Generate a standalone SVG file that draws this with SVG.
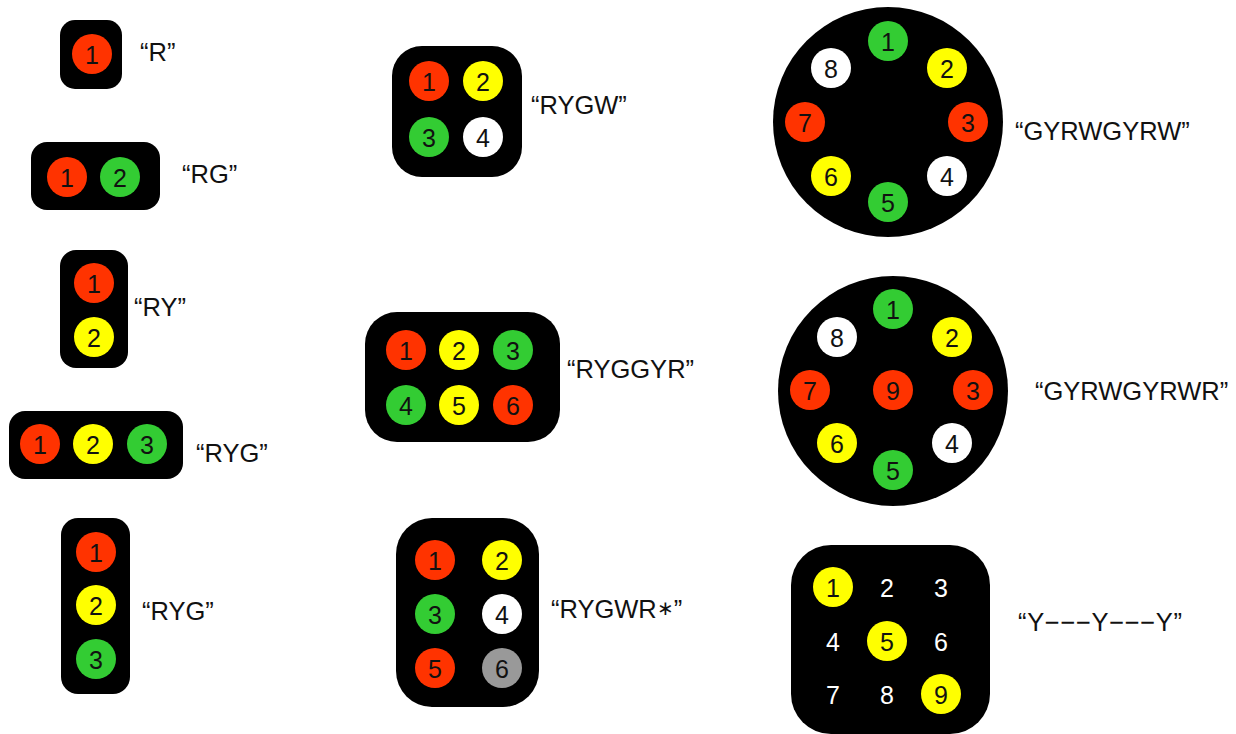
<svg xmlns="http://www.w3.org/2000/svg" width="1236" height="734" viewBox="0 0 1236 734">
<style>
.box{fill:#000}
.r{fill:#FF3300}
.y{fill:#FFFF00}
.g{fill:#33CC33}
.w{fill:#FFFFFF}
.gr{fill:#999999}
.n{font-family:"Liberation Sans",Arial,sans-serif;font-size:25px;fill:#111;text-anchor:middle;dominant-baseline:central}
.nw{font-family:"Liberation Sans",Arial,sans-serif;font-size:25px;fill:#fff;text-anchor:middle;dominant-baseline:central}
.lbl{font-family:"Liberation Sans",Arial,sans-serif;font-size:25.5px;fill:#111}
</style>
<rect width="1236" height="734" fill="#fff"/>

<g id="sig-R">
<rect class="box" x="60" y="20" width="62" height="69" rx="15"/>
<circle class="r" cx="92" cy="54" r="20"/><text class="n" x="92" y="55">1</text>
<text class="lbl" x="140" y="61">“R”</text>
</g>

<g id="sig-RG">
<rect class="box" x="31" y="142" width="129" height="68" rx="16"/>
<circle class="r" cx="67" cy="177" r="20"/><text class="n" x="67" y="178">1</text>
<circle class="g" cx="120" cy="177" r="20"/><text class="n" x="120" y="178">2</text>
<text class="lbl" x="182" y="183">“RG”</text>
</g>

<g id="sig-RY">
<rect class="box" x="60" y="250" width="68" height="118" rx="16"/>
<circle class="r" cx="94" cy="283" r="20"/><text class="n" x="94" y="284">1</text>
<circle class="y" cx="94" cy="337" r="20"/><text class="n" x="94" y="338">2</text>
<text class="lbl" x="134" y="316">“RY”</text>
</g>

<g id="sig-RYG-h">
<rect class="box" x="9" y="411" width="174" height="68" rx="16"/>
<circle class="r" cx="40" cy="444" r="20"/><text class="n" x="40" y="445">1</text>
<circle class="y" cx="93" cy="444" r="20"/><text class="n" x="93" y="445">2</text>
<circle class="g" cx="147" cy="444" r="20"/><text class="n" x="147" y="445">3</text>
<text class="lbl" x="196" y="462">“RYG”</text>
</g>

<g id="sig-RYG-v">
<rect class="box" x="61" y="518" width="69" height="176" rx="17"/>
<circle class="r" cx="96" cy="552" r="20"/><text class="n" x="96" y="553">1</text>
<circle class="y" cx="96" cy="605" r="20"/><text class="n" x="96" y="606">2</text>
<circle class="g" cx="96" cy="659" r="20"/><text class="n" x="96" y="660">3</text>
<text class="lbl" x="142" y="620">“RYG”</text>
</g>

<g id="sig-RYGW">
<rect class="box" x="392" y="46" width="130" height="131" rx="30"/>
<circle class="r" cx="429" cy="81" r="20"/><text class="n" x="429" y="82">1</text>
<circle class="y" cx="483" cy="81" r="20"/><text class="n" x="483" y="82">2</text>
<circle class="g" cx="429" cy="137" r="20"/><text class="n" x="429" y="138">3</text>
<circle class="w" cx="483" cy="137" r="20"/><text class="n" x="483" y="138">4</text>
<text class="lbl" x="531" y="114">“RYGW”</text>
</g>

<g id="sig-RYGGYR">
<rect class="box" x="365" y="312" width="195" height="130" rx="32"/>
<circle class="r" cx="406" cy="350" r="20"/><text class="n" x="406" y="351">1</text>
<circle class="y" cx="459" cy="350" r="20"/><text class="n" x="459" y="351">2</text>
<circle class="g" cx="513" cy="350" r="20"/><text class="n" x="513" y="351">3</text>
<circle class="g" cx="406" cy="405" r="20"/><text class="n" x="406" y="406">4</text>
<circle class="y" cx="459" cy="405" r="20"/><text class="n" x="459" y="406">5</text>
<circle class="r" cx="513" cy="405" r="20"/><text class="n" x="513" y="406">6</text>
<text class="lbl" x="567" y="378">“RYGGYR”</text>
</g>

<g id="sig-RYGWR">
<rect class="box" x="396" y="518" width="143" height="189" rx="36"/>
<circle class="r" cx="435" cy="560" r="20"/><text class="n" x="435" y="561">1</text>
<circle class="y" cx="502" cy="560" r="20"/><text class="n" x="502" y="561">2</text>
<circle class="g" cx="435" cy="614" r="20"/><text class="n" x="435" y="615">3</text>
<circle class="w" cx="502" cy="614" r="20"/><text class="n" x="502" y="615">4</text>
<circle class="r" cx="435" cy="668" r="20"/><text class="n" x="435" y="669">5</text>
<circle class="gr" cx="502" cy="668" r="20"/><text class="n" x="502" y="669">6</text>
<text class="lbl" x="551" y="618">“RYGWR<tspan font-size="20" dy="-3">∗</tspan><tspan dy="3">”</tspan></text>
</g>

<g id="sig-GYRWGYRW">
<circle class="box" cx="888" cy="122" r="115"/>
<circle class="g" cx="888" cy="41" r="20"/><text class="n" x="888" y="42">1</text>
<circle class="y" cx="947" cy="68" r="20"/><text class="n" x="947" y="69">2</text>
<circle class="r" cx="968" cy="122" r="20"/><text class="n" x="968" y="123">3</text>
<circle class="w" cx="947" cy="176" r="20"/><text class="n" x="947" y="177">4</text>
<circle class="g" cx="888" cy="202" r="20"/><text class="n" x="888" y="203">5</text>
<circle class="y" cx="831" cy="176" r="20"/><text class="n" x="831" y="177">6</text>
<circle class="r" cx="805" cy="122" r="20"/><text class="n" x="805" y="123">7</text>
<circle class="w" cx="831" cy="68" r="20"/><text class="n" x="831" y="69">8</text>
<text class="lbl" x="1015" y="140">“GYRWGYRW”</text>
</g>

<g id="sig-GYRWGYRWR">
<circle class="box" cx="893" cy="391" r="115"/>
<circle class="g" cx="893" cy="309" r="20"/><text class="n" x="893" y="310">1</text>
<circle class="y" cx="952" cy="337" r="20"/><text class="n" x="952" y="338">2</text>
<circle class="r" cx="973" cy="390" r="20"/><text class="n" x="973" y="391">3</text>
<circle class="w" cx="952" cy="443" r="20"/><text class="n" x="952" y="444">4</text>
<circle class="g" cx="893" cy="470" r="20"/><text class="n" x="893" y="471">5</text>
<circle class="y" cx="837" cy="443" r="20"/><text class="n" x="837" y="444">6</text>
<circle class="r" cx="810" cy="390" r="20"/><text class="n" x="810" y="391">7</text>
<circle class="w" cx="837" cy="337" r="20"/><text class="n" x="837" y="338">8</text>
<circle class="r" cx="893" cy="390" r="20"/><text class="n" x="893" y="391">9</text>
<text class="lbl" x="1035" y="400">“GYRWGYRWR”</text>
</g>

<g id="sig-Y-Y-Y">
<rect class="box" x="791" y="545" width="199" height="189" rx="40"/>
<circle class="y" cx="833" cy="587" r="20"/><text class="n" x="833" y="588">1</text>
<text class="nw" x="887" y="588">2</text>
<text class="nw" x="941" y="588">3</text>
<text class="nw" x="833" y="642">4</text>
<circle class="y" cx="887" cy="641" r="20"/><text class="n" x="887" y="642">5</text>
<text class="nw" x="941" y="642">6</text>
<text class="nw" x="833" y="695">7</text>
<text class="nw" x="887" y="695">8</text>
<circle class="y" cx="941" cy="694" r="20"/><text class="n" x="941" y="695">9</text>
<text class="lbl" x="1018" y="631" textLength="164" lengthAdjust="spacing">“Y−−−Y−−−Y”</text>
</g>
</svg>
